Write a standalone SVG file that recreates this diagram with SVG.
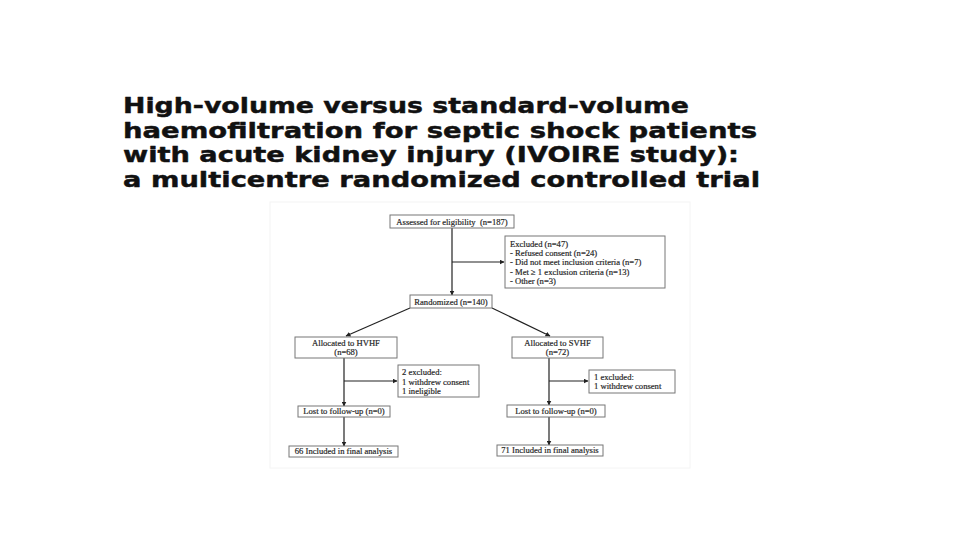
<svg xmlns="http://www.w3.org/2000/svg" width="960" height="540" viewBox="0 0 960 540">
  <defs>
    <marker id="arr" viewBox="0 0 10 10" refX="9" refY="5" markerWidth="5" markerHeight="5" orient="auto" markerUnits="userSpaceOnUse">
      <path d="M0,0 L10,5 L0,10 z" fill="#222"/>
    </marker>
    <style>
      .title { font-family: "DejaVu Sans", "Liberation Sans", sans-serif; font-weight: bold; font-size: 21.5px; fill: #111; stroke: #111; stroke-width: 0.45; stroke-linejoin: round; }
      .box { fill: #fff; stroke: #777; stroke-width: 1; }
      .t { font-family: "Liberation Serif", "Times New Roman", serif; font-size: 8.6px; fill: #1a1a1a; stroke: #333; stroke-width: 0.2; }
      .c { text-anchor: middle; }
      .ln { fill: none; stroke: #222; stroke-width: 1.2; }
    </style>
  </defs>
  <rect width="960" height="540" fill="#fff"/>
  <rect x="270" y="202" width="420" height="266" fill="#fff" stroke="#f4f4f4" stroke-width="1"/>

  <g id="title">
    <text class="title" x="123" y="113" textLength="566" lengthAdjust="spacingAndGlyphs">High-volume versus standard-volume</text>
    <text class="title" x="123" y="137.5" textLength="634" lengthAdjust="spacingAndGlyphs">haemofiltration for septic shock patients</text>
    <text class="title" x="123" y="162" textLength="616" lengthAdjust="spacingAndGlyphs">with acute kidney injury (IVOIRE study):</text>
    <text class="title" x="123" y="186.5" textLength="637" lengthAdjust="spacingAndGlyphs">a multicentre randomized controlled trial</text>
  </g>

  <g id="connectors">
    <line class="ln" x1="452" y1="228" x2="452" y2="295" marker-end="url(#arr)"/>
    <line class="ln" x1="452" y1="262" x2="504" y2="262" marker-end="url(#arr)"/>
    <line class="ln" x1="410" y1="308" x2="346" y2="336" marker-end="url(#arr)"/>
    <line class="ln" x1="492" y1="308" x2="550" y2="336" marker-end="url(#arr)"/>
    <line class="ln" x1="344" y1="358" x2="344" y2="406" marker-end="url(#arr)"/>
    <line class="ln" x1="344" y1="381" x2="397" y2="381" marker-end="url(#arr)"/>
    <line class="ln" x1="344" y1="417" x2="344" y2="446" marker-end="url(#arr)"/>
    <line class="ln" x1="549" y1="358" x2="549" y2="405" marker-end="url(#arr)"/>
    <line class="ln" x1="549" y1="381" x2="588" y2="381" marker-end="url(#arr)"/>
    <line class="ln" x1="549" y1="417" x2="549" y2="445" marker-end="url(#arr)"/>
  </g>

  <g id="assessed">
    <rect class="box" x="390" y="215" width="124" height="13"/>
    <text class="t c" x="452" y="224.8" xml:space="preserve">Assessed for eligibility  (n=187)</text>
  </g>
  <g id="excluded">
    <rect class="box" x="505" y="236" width="160" height="52"/>
    <text class="t" x="510" y="246.5">Excluded (n=47)</text>
    <text class="t" x="510" y="255.5">- Refused consent (n=24)</text>
    <text class="t" x="510" y="264.8">- Did not meet inclusion criteria (n=7)</text>
    <text class="t" x="510" y="274.5">- Met ≥ 1 exclusion criteria (n=13)</text>
    <text class="t" x="510" y="284">- Other (n=3)</text>
  </g>
  <g id="randomized">
    <rect class="box" x="410" y="295" width="82" height="13"/>
    <text class="t c" x="451" y="304.8">Randomized (n=140)</text>
  </g>
  <g id="alloc-hvhf">
    <rect class="box" x="295" y="337" width="102" height="21"/>
    <text class="t c" x="346" y="345.8">Allocated to HVHF</text>
    <text class="t c" x="346" y="355.3">(n=68)</text>
  </g>
  <g id="excl-hvhf">
    <rect class="box" x="398" y="365" width="81" height="32"/>
    <text class="t" x="402" y="374.8">2 excluded:</text>
    <text class="t" x="402" y="384.5">1 withdrew consent</text>
    <text class="t" x="402" y="393.8">1 ineligible</text>
  </g>
  <g id="lost-hvhf">
    <rect class="box" x="298" y="406" width="92" height="11"/>
    <text class="t c" x="344" y="414.3">Lost to follow-up (n=0)</text>
  </g>
  <g id="final-hvhf">
    <rect class="box" x="289" y="446" width="109" height="11"/>
    <text class="t c" x="343.5" y="454.3">66 Included in final analysis</text>
  </g>
  <g id="alloc-svhf">
    <rect class="box" x="512" y="337" width="91" height="21"/>
    <text class="t c" x="557.5" y="345.8">Allocated to SVHF</text>
    <text class="t c" x="557.5" y="355.3">(n=72)</text>
  </g>
  <g id="excl-svhf">
    <rect class="box" x="589" y="370" width="86" height="23"/>
    <text class="t" x="594" y="379.8">1 excluded:</text>
    <text class="t" x="594" y="389.3">1 withdrew consent</text>
  </g>
  <g id="lost-svhf">
    <rect class="box" x="507" y="405" width="98" height="12"/>
    <text class="t c" x="556" y="413.8">Lost to follow-up (n=0)</text>
  </g>
  <g id="final-svhf">
    <rect class="box" x="497" y="445" width="106" height="11"/>
    <text class="t c" x="550" y="453.3">71 Included in final analysis</text>
  </g>
</svg>
